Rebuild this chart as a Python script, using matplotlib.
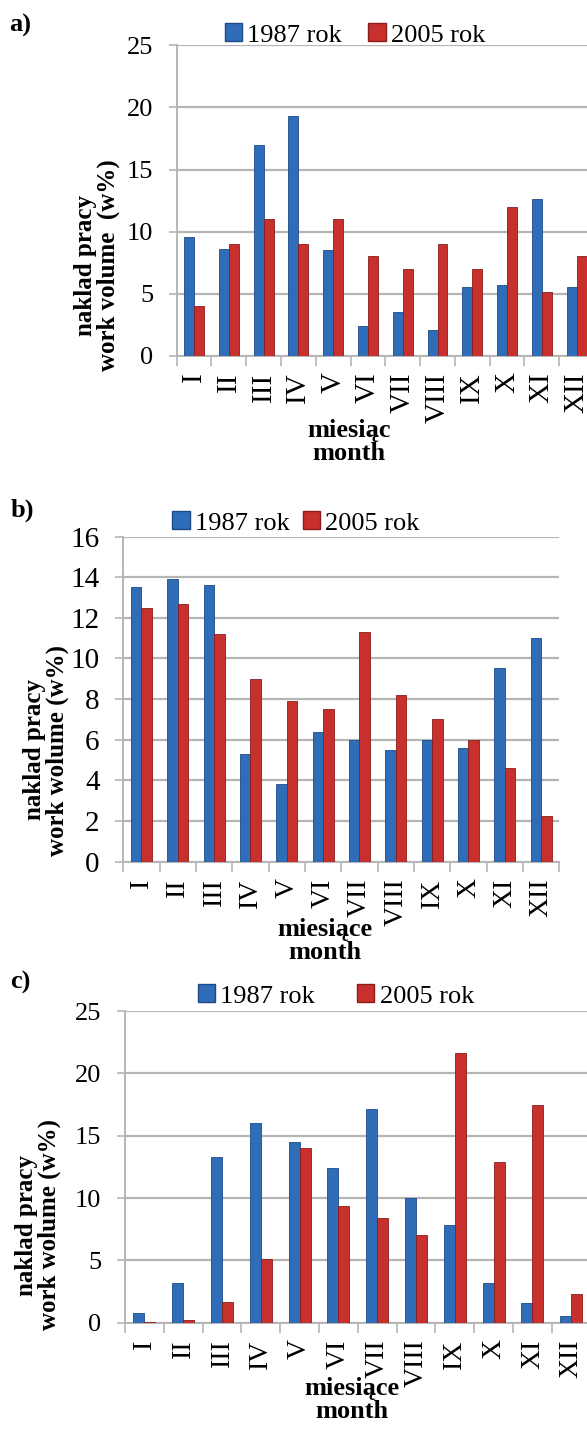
import matplotlib
matplotlib.use("Agg")
import matplotlib.pyplot as plt
from matplotlib.patches import Patch
import numpy as np

# --- Data ---
MONTHS = ["I", "II", "III", "IV", "V", "VI", "VII", "VIII", "IX", "X", "XI", "XII"]

a_1987 = [9.6, 8.6, 17.0, 19.3, 8.5, 2.4, 3.5, 2.1, 5.5, 5.7, 12.6, 5.5]
a_2005 = [4.0, 9.0, 11.0, 9.0, 11.0, 8.0, 7.0, 9.0, 7.0, 12.0, 5.1, 8.0]

b_1987 = [13.5, 13.9, 13.6, 5.3, 3.8, 6.4, 6.0, 5.5, 6.0, 5.6, 9.55, 11.0]
b_2005 = [12.5, 12.7, 11.2, 9.0, 7.9, 7.5, 11.3, 8.2, 7.0, 6.0, 4.6, 2.25]

c_1987 = [0.8, 3.2, 13.3, 16.0, 14.5, 12.4, 17.1, 10.0, 7.8, 3.2, 1.6, 0.5]
c_2005 = [0.05, 0.2, 1.7, 5.1, 14.0, 9.4, 8.4, 7.0, 21.6, 12.9, 17.5, 2.3]

SERIES_LABELS = ["1987 rok", "2005 rok"]

# --- Style ---
BLUE = "#2f6db8"
BLUE_EDGE = "#1d4a85"
RED = "#c8302e"
RED_EDGE = "#8a1c1b"
GRID = "#b5b5b5"
FONT = "Liberation Serif"

plt.rcParams["font.family"] = [FONT, "DejaVu Serif"]

W = 587
H = 1430


def fx(px):
    return px / W


def fy(py):
    return 1 - py / H


def draw_panel(fig, rect, v1, v2, ymax, ystep, xtick_size, ytick_size):
    ax = fig.add_axes(rect)
    x = np.arange(len(MONTHS))
    bw = 1 / 3.5
    ax.bar(x - bw / 2, v1, bw, color=BLUE, edgecolor=BLUE_EDGE, linewidth=0.6, zorder=3)
    ax.bar(x + bw / 2, v2, bw, color=RED, edgecolor=RED_EDGE, linewidth=0.6, zorder=3)

    ax.set_xlim(-0.5, len(MONTHS) - 0.5)
    ax.set_ylim(0, ymax)
    ax.set_yticks(np.arange(0, ymax + 0.1, ystep))
    ax.yaxis.grid(True, color=GRID, linewidth=1.6, zorder=0)
    ax.set_axisbelow(True)

    ax.set_xticks(x)
    ax.set_xticklabels(MONTHS, rotation=90, fontsize=xtick_size)
    ax.set_xticks(np.arange(-0.5, len(MONTHS)), minor=True)
    ax.tick_params(axis="x", which="major", length=0, pad=12)
    ax.tick_params(axis="x", which="minor", length=7, width=1.2, color=GRID)
    ax.tick_params(axis="y", length=6, width=1.2, color=GRID, labelsize=ytick_size, pad=11)

    for side in ["top", "right"]:
        ax.spines[side].set_visible(False)
    for side in ["left", "bottom"]:
        ax.spines[side].set_color(GRID)
        ax.spines[side].set_linewidth(1.4)
    return ax


def add_legend(fig, ax, cx, cy, colspace):
    handles = [Patch(facecolor=BLUE, edgecolor=BLUE_EDGE),
               Patch(facecolor=RED, edgecolor=RED_EDGE)]
    ax.legend(handles, SERIES_LABELS, loc="center", bbox_to_anchor=(fx(cx), fy(cy)),
              bbox_transform=fig.transFigure, ncol=2, frameon=False,
              fontsize=19, handlelength=0.65, handleheight=0.65,
              handletextpad=0.2, columnspacing=colspace, borderaxespad=0)


def main():
    fig = plt.figure(figsize=(W / 100, H / 100), dpi=100)

    # a)
    ax_a = draw_panel(fig, [fx(176.7), fy(355.7), fx(594 - 176.7), (355.7 - 45.4) / H],
                      a_1987, a_2005, 25, 5, 21, 19)
    add_legend(fig, ax_a, 355, 35, 1.0)
    fig.text(fx(20), fy(25), "a)", fontsize=19, fontweight="bold", ha="center", va="center")
    fig.text(fx(97), fy(265), "naklad pracy\nwork volume  (w%)", rotation=90, fontsize=18,
             fontweight="bold", ha="center", va="center", multialignment="center", linespacing=1.0)
    fig.text(fx(349), fy(442), "miesiąc\nmonth", fontsize=19, fontweight="bold",
             ha="center", va="center", multialignment="center", linespacing=1.05)

    # b)
    ax_b = draw_panel(fig, [fx(123.3), fy(861.7), fx(559.3 - 123.3), (861.7 - 536.5) / H],
                      b_1987, b_2005, 16, 2, 20, 21)
    add_legend(fig, ax_b, 296, 523, 0.5)
    fig.text(fx(22), fy(510), "b)", fontsize=19, fontweight="bold", ha="center", va="center")
    fig.text(fx(46), fy(750), "naklad pracy\nwork wolume (w%)", rotation=90, fontsize=18,
             fontweight="bold", ha="center", va="center", multialignment="center", linespacing=1.0)
    fig.text(fx(325), fy(941), "miesiące\nmonth", fontsize=19, fontweight="bold",
             ha="center", va="center", multialignment="center", linespacing=1.0)

    # c)
    ax_c = draw_panel(fig, [fx(125), fy(1322.7), fx(590.6 - 125), (1322.7 - 1011) / H],
                      c_1987, c_2005, 25, 5, 20, 19)
    add_legend(fig, ax_c, 336, 996, 1.6)
    fig.text(fx(20), fy(982), "c)", fontsize=19, fontweight="bold", ha="center", va="center")
    fig.text(fx(38), fy(1225), "naklad pracy\nwork wolume (w%)", rotation=90, fontsize=18,
             fontweight="bold", ha="center", va="center", multialignment="center", linespacing=1.0)
    fig.text(fx(352), fy(1400), "miesiące\nmonth", fontsize=19, fontweight="bold",
             ha="center", va="center", multialignment="center", linespacing=1.0)

    fig.savefig("out.png", dpi=100)


if __name__ == "__main__":
    main()
